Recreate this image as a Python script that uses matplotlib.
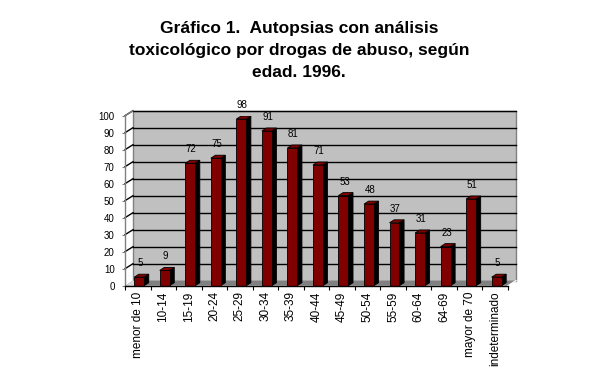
import matplotlib
matplotlib.use('Agg')
import matplotlib.pyplot as plt
from matplotlib.patches import Polygon

# -- Data --
CATEGORIES = ['menor de 10', '10-14', '15-19', '20-24', '25-29', '30-34', '35-39',
              '40-44', '45-49', '50-54', '55-59', '60-64', '64-69', 'mayor de 70',
              'indeterminado']
VALUES = [5, 9, 72, 75, 98, 91, 81, 71, 53, 48, 37, 31, 23, 51, 5]
YTICKS = [0, 10, 20, 30, 40, 50, 60, 70, 80, 90, 100]
TITLE = 'Gráfico 1.  Autopsias con análisis\ntoxicológico por drogas de abuso, según\nedad. 1996.'

# -- Style --
FONT = 'Liberation Sans'
BAR_FRONT = '#800000'
BAR_SIDE = '#000000'
WALL = '#C0C0C0'
FLOOR = '#808080'
EDGE = '#808080'

W, H, DPI = 609, 379, 100
fig = plt.figure(figsize=(W / DPI, H / DPI), dpi=DPI)

# front plane of the pseudo-3D chart, in pixels
x0, x1 = 125, 508
y0, y1 = 285.7, 115.7
ax = fig.add_axes([x0 / W, (H - y0) / H, (x1 - x0) / W, (y0 - y1) / H])
n = len(CATEGORIES)
ax.set_xlim(0, n)
ax.set_ylim(0, 100)

px_x = (x1 - x0) / n      # pixels per x unit
px_y = (y0 - y1) / 100    # pixels per y unit
# depth offsets (pixels -> data)
DX, DY = 8 / px_x, 5 / px_y
BX, BY = 4.6 / px_x, 3 / px_y

for s in ax.spines.values():
    s.set_visible(False)
ax.patch.set_visible(False)

# back wall
ax.add_patch(Polygon([(DX, DY), (n + DX, DY), (n + DX, 100 + DY), (DX, 100 + DY)],
                     closed=True, facecolor=WALL, edgecolor=EDGE, lw=1,
                     clip_on=False, zorder=0))
# floor
ax.add_patch(Polygon([(0, 0), (n, 0), (n + DX, DY), (DX, DY)],
                     closed=True, facecolor=FLOOR, edgecolor='none',
                     clip_on=False, zorder=0.5))
ax.add_patch(Polygon([(0, 0), (DX, DY), (DX + 0.35, DY), (0.35, 0)],
                     closed=True, facecolor='#D8D8D8', edgecolor='none',
                     clip_on=False, zorder=0.6))
ax.plot([n, n + DX], [0, DY], color='white', lw=1, clip_on=False, zorder=0.7)

# gridlines on back wall + side wall
for t in YTICKS[1:]:
    ax.plot([DX, n + DX], [t + DY, t + DY], color='black', lw=1, clip_on=False, zorder=1)
    ax.plot([0, DX], [t, t + DY], color='black', lw=1, clip_on=False, zorder=1)
ax.plot([0, 0], [0, 100], color=EDGE, lw=1, clip_on=False, zorder=1)
ax.plot([0, DX], [100, 100 + DY], color=EDGE, lw=1, clip_on=False, zorder=1)
ax.plot([0, n], [0, 0], color='black', lw=1, clip_on=False, zorder=3)

# bars
for i, v in enumerate(VALUES):
    l, r = i + 0.36, i + 0.75
    ax.add_patch(Polygon([(r, 0), (r + BX, BY), (r + BX, v + BY), (r, v)],
                         closed=True, facecolor=BAR_SIDE, edgecolor='black',
                         lw=0.6, zorder=2))
    ax.add_patch(Polygon([(l, v), (r, v), (r + BX, v + BY), (l + BX, v + BY)],
                         closed=True, facecolor=BAR_FRONT, edgecolor='black',
                         lw=0.6, zorder=2))
    ax.add_patch(Polygon([(l, 0), (r, 0), (r, v), (l, v)],
                         closed=True, facecolor=BAR_FRONT, edgecolor='black',
                         lw=0.6, zorder=2.5))
    ax.annotate(str(v), ((l + r) / 2, v), xytext=(1, 9), textcoords='offset pixels',
                ha='center', va='bottom', fontsize=7, family=FONT)

# axes ticks
ax.set_yticks(YTICKS)
ax.set_yticklabels([str(t) for t in YTICKS], fontsize=7, family=FONT)
ax.tick_params(axis='y', direction='out', length=2.5, width=0.8, pad=5, color=EDGE)
ax.set_xticks([i + 0.5 for i in range(n)])
ax.set_xticklabels(CATEGORIES, rotation=90, fontsize=8.5, family=FONT, va='top')
ax.tick_params(axis='x', length=0, pad=4)
ax.set_xticks(range(n + 1), minor=True)
ax.tick_params(axis='x', which='minor', direction='out', length=3, width=0.8, color='black')

fig.text(299 / W, 1 - 21 / H, TITLE, ha='center', va='top', fontsize=12.5,
         fontweight='bold', family=FONT, linespacing=1.57)

fig.savefig('out.png', dpi=DPI)
